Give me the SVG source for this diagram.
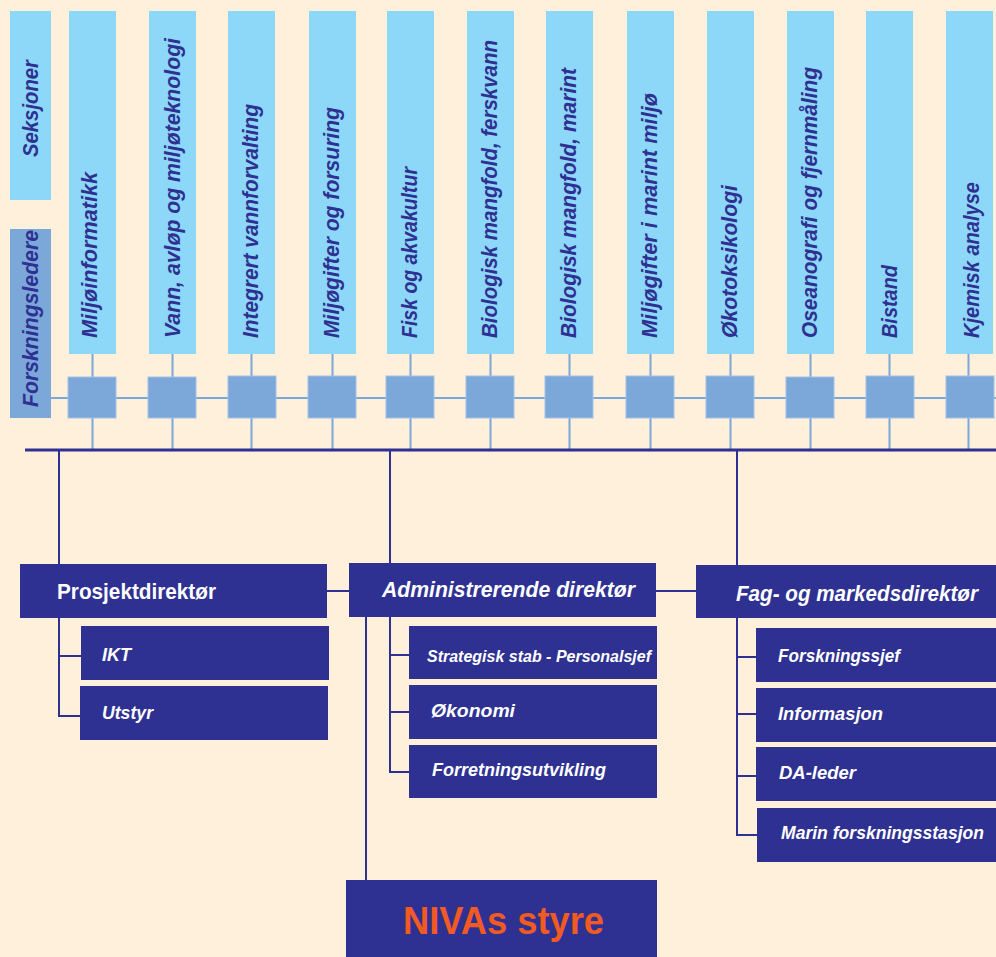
<svg xmlns="http://www.w3.org/2000/svg" width="996" height="957" viewBox="0 0 996 957">
<style>
.col{fill:#8DD8F8}
.sq{fill:#7BA7D9;stroke:#A3C1E6;stroke-width:1}
.lb{stroke:#7BA7D9;stroke-width:2;fill:none}
.nv{stroke:#2E3192;stroke-width:2;fill:none}
.box{fill:#2E3192}
.vt{font-family:"Liberation Sans",Arial,sans-serif;font-style:italic;font-weight:bold;font-size:22.5px;fill:#2E3192}
.wt{font-family:"Liberation Sans",Arial,sans-serif;font-weight:bold;fill:#FFFFFF}
.it{font-style:italic}
</style>
<rect x="0" y="0" width="996" height="957" fill="#FEF0DB"/>

<g id="connectors">
  <line class="lb" x1="51" y1="398" x2="996" y2="398"/>
  <line class="lb" x1="92.5" y1="354" x2="92.5" y2="449"/>
  <line class="lb" x1="172.5" y1="354" x2="172.5" y2="449"/>
  <line class="lb" x1="251.5" y1="354" x2="251.5" y2="449"/>
  <line class="lb" x1="332.5" y1="354" x2="332.5" y2="449"/>
  <line class="lb" x1="410.5" y1="354" x2="410.5" y2="449"/>
  <line class="lb" x1="490.5" y1="354" x2="490.5" y2="449"/>
  <line class="lb" x1="569.5" y1="354" x2="569.5" y2="449"/>
  <line class="lb" x1="650.5" y1="354" x2="650.5" y2="449"/>
  <line class="lb" x1="730.5" y1="354" x2="730.5" y2="449"/>
  <line class="lb" x1="810.5" y1="354" x2="810.5" y2="449"/>
  <line class="lb" x1="889.5" y1="354" x2="889.5" y2="449"/>
  <line class="lb" x1="968.5" y1="354" x2="968.5" y2="449"/>
  <line stroke="#2E3192" stroke-width="3" x1="25" y1="450" x2="996" y2="450"/>
  <line class="nv" x1="59" y1="450" x2="59" y2="564"/>
  <line class="nv" x1="390" y1="450" x2="390" y2="564"/>
  <line class="nv" x1="737" y1="450" x2="737" y2="566"/>
  <line class="nv" x1="327" y1="591" x2="349" y2="591"/>
  <line class="nv" x1="655" y1="591" x2="696" y2="591"/>
  <polyline class="nv" points="59,618 59,716 81,716"/>
  <line class="nv" x1="59" y1="656" x2="81" y2="656"/>
  <polyline class="nv" points="390,617 390,772 409,772"/>
  <line class="nv" x1="390" y1="655" x2="409" y2="655"/>
  <line class="nv" x1="390" y1="712" x2="409" y2="712"/>
  <line class="nv" x1="366" y1="617" x2="366" y2="880"/>
  <polyline class="nv" points="737,618 737,835 757,835"/>
  <line class="nv" x1="737" y1="657" x2="756" y2="657"/>
  <line class="nv" x1="737" y1="714" x2="756" y2="714"/>
  <line class="nv" x1="737" y1="776" x2="756" y2="776"/>
</g>

<g id="seksjoner">
  <rect x="10" y="11" width="41" height="189" class="col"/>
  <text class="vt" transform="translate(38,157) rotate(-90)" textLength="97" lengthAdjust="spacingAndGlyphs">Seksjoner</text>
</g>
<g id="forskningsledere">
  <rect x="10" y="229" width="41" height="189" fill="#7BA7D9"/>
  <text class="vt" transform="translate(38,407) rotate(-90)" textLength="177" lengthAdjust="spacingAndGlyphs">Forskningsledere</text>
</g>

<g id="col1">
  <rect x="69" y="11" width="47" height="343" class="col"/>
  <rect x="68" y="377" width="48" height="41" class="sq"/>
  <text class="vt" transform="translate(97,338) rotate(-90)" textLength="166" lengthAdjust="spacingAndGlyphs">Miljøinformatikk</text>
</g>
<g id="col2">
  <rect x="149" y="11" width="47" height="343" class="col"/>
  <rect x="148" y="377" width="48" height="41" class="sq"/>
  <text class="vt" transform="translate(180,338) rotate(-90)" textLength="300" lengthAdjust="spacingAndGlyphs">Vann, avløp og miljøteknologi</text>
</g>
<g id="col3">
  <rect x="228" y="11" width="47" height="343" class="col"/>
  <rect x="228" y="376" width="48" height="42" class="sq"/>
  <text class="vt" transform="translate(258,338) rotate(-90)" textLength="234" lengthAdjust="spacingAndGlyphs">Integrert vannforvalting</text>
</g>
<g id="col4">
  <rect x="309" y="11" width="47" height="343" class="col"/>
  <rect x="308" y="376" width="48" height="42" class="sq"/>
  <text class="vt" transform="translate(339,338) rotate(-90)" textLength="231" lengthAdjust="spacingAndGlyphs">Miljøgifter og forsuring</text>
</g>
<g id="col5">
  <rect x="387" y="11" width="47" height="343" class="col"/>
  <rect x="386" y="376" width="48" height="42" class="sq"/>
  <text class="vt" transform="translate(417,338) rotate(-90)" textLength="171" lengthAdjust="spacingAndGlyphs">Fisk og akvakultur</text>
</g>
<g id="col6">
  <rect x="467" y="11" width="47" height="343" class="col"/>
  <rect x="466" y="376" width="48" height="42" class="sq"/>
  <text class="vt" transform="translate(497,338) rotate(-90)" textLength="298" lengthAdjust="spacingAndGlyphs">Biologisk mangfold, ferskvann</text>
</g>
<g id="col7">
  <rect x="546" y="11" width="47" height="343" class="col"/>
  <rect x="545" y="376" width="48" height="42" class="sq"/>
  <text class="vt" transform="translate(576,338) rotate(-90)" textLength="270" lengthAdjust="spacingAndGlyphs">Biologisk mangfold, marint</text>
</g>
<g id="col8">
  <rect x="627" y="11" width="47" height="343" class="col"/>
  <rect x="626" y="376" width="48" height="42" class="sq"/>
  <text class="vt" transform="translate(657,338) rotate(-90)" textLength="245" lengthAdjust="spacingAndGlyphs">Miljøgifter i marint miljø</text>
</g>
<g id="col9">
  <rect x="707" y="11" width="47" height="343" class="col"/>
  <rect x="706" y="376" width="48" height="42" class="sq"/>
  <text class="vt" transform="translate(737,338) rotate(-90)" textLength="153" lengthAdjust="spacingAndGlyphs">Økotoksikologi</text>
</g>
<g id="col10">
  <rect x="787" y="11" width="47" height="343" class="col"/>
  <rect x="786" y="377" width="48" height="41" class="sq"/>
  <text class="vt" transform="translate(817,338) rotate(-90)" textLength="271" lengthAdjust="spacingAndGlyphs">Oseanografi og fjernmåling</text>
</g>
<g id="col11">
  <rect x="866" y="11" width="47" height="343" class="col"/>
  <rect x="866" y="376" width="48" height="42" class="sq"/>
  <text class="vt" transform="translate(897,338) rotate(-90)" textLength="73" lengthAdjust="spacingAndGlyphs">Bistand</text>
</g>
<g id="col12">
  <rect x="946" y="11" width="47" height="343" class="col"/>
  <rect x="946" y="376" width="48" height="42" class="sq"/>
  <text class="vt" transform="translate(979,338) rotate(-90)" textLength="156" lengthAdjust="spacingAndGlyphs">Kjemisk analyse</text>
</g>

<g id="prosjektdirektor">
  <rect x="20" y="564" width="307" height="54" class="box"/>
  <text class="wt" x="57" y="599" font-size="22" textLength="159" lengthAdjust="spacingAndGlyphs">Prosjektdirektør</text>
</g>
<g id="ikt">
  <rect x="81" y="626" width="248" height="54" class="box"/>
  <text class="wt it" x="102" y="661" font-size="19" textLength="29" lengthAdjust="spacingAndGlyphs">IKT</text>
</g>
<g id="utstyr">
  <rect x="80" y="686" width="248" height="54" class="box"/>
  <text class="wt it" x="102" y="719" font-size="19" textLength="51" lengthAdjust="spacingAndGlyphs">Utstyr</text>
</g>

<g id="administrerende">
  <rect x="349" y="563" width="307" height="54" class="box"/>
  <text class="wt it" x="382" y="597" font-size="21.5" textLength="253" lengthAdjust="spacingAndGlyphs">Administrerende direktør</text>
</g>
<g id="strategisk">
  <rect x="409" y="626" width="248" height="53" class="box"/>
  <text class="wt it" x="427" y="662" font-size="16.5" textLength="224" lengthAdjust="spacingAndGlyphs">Strategisk stab - Personalsjef</text>
</g>
<g id="okonomi">
  <rect x="409" y="685" width="248" height="54" class="box"/>
  <text class="wt it" x="431" y="717" font-size="18.5" textLength="84" lengthAdjust="spacingAndGlyphs">Økonomi</text>
</g>
<g id="forretning">
  <rect x="409" y="745" width="248" height="53" class="box"/>
  <text class="wt it" x="432" y="776" font-size="18.5" textLength="174" lengthAdjust="spacingAndGlyphs">Forretningsutvikling</text>
</g>

<g id="fagdirektor">
  <rect x="696" y="565" width="300" height="53" class="box"/>
  <text class="wt it" x="736" y="601" font-size="21.5" textLength="242" lengthAdjust="spacingAndGlyphs">Fag- og markedsdirektør</text>
</g>
<g id="forskningssjef">
  <rect x="756" y="628" width="240" height="54" class="box"/>
  <text class="wt it" x="778" y="662" font-size="19" textLength="122" lengthAdjust="spacingAndGlyphs">Forskningssjef</text>
</g>
<g id="informasjon">
  <rect x="756" y="688" width="240" height="54" class="box"/>
  <text class="wt it" x="778" y="720" font-size="19" textLength="105" lengthAdjust="spacingAndGlyphs">Informasjon</text>
</g>
<g id="daleder">
  <rect x="756" y="747" width="240" height="54" class="box"/>
  <text class="wt it" x="779" y="779" font-size="19" textLength="77" lengthAdjust="spacingAndGlyphs">DA-leder</text>
</g>
<g id="marin">
  <rect x="757" y="808" width="239" height="54" class="box"/>
  <text class="wt it" x="781" y="839" font-size="18.5" textLength="203" lengthAdjust="spacingAndGlyphs">Marin forskningsstasjon</text>
</g>

<g id="styre">
  <rect x="346" y="880" width="311" height="77" class="box"/>
  <text x="403" y="934" font-family="Liberation Sans,Arial,sans-serif" font-weight="bold" font-size="38" fill="#F15A22" textLength="201" lengthAdjust="spacingAndGlyphs">NIVAs styre</text>
</g>
</svg>
